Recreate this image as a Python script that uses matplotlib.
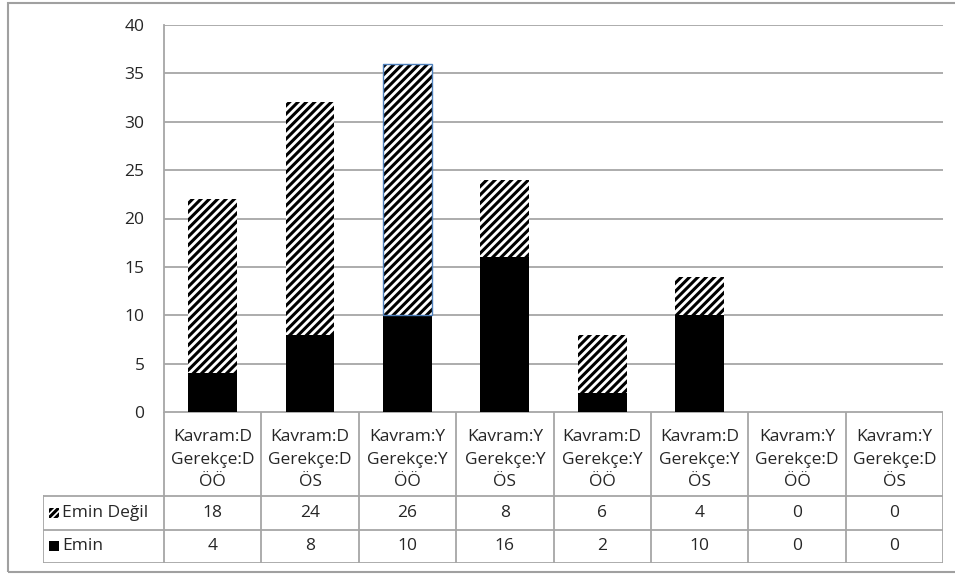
import numpy as np
import matplotlib.pyplot as plt
from matplotlib.patches import Rectangle

plt.rcParams['font.family'] = ['Open Sans', 'DejaVu Sans']
plt.rcParams['hatch.linewidth'] = 2.2

categories = ["Kavram:D\nGerekçe:D\nÖÖ", "Kavram:D\nGerekçe:D\nÖS",
              "Kavram:Y\nGerekçe:Y\nÖÖ", "Kavram:Y\nGerekçe:Y\nÖS",
              "Kavram:D\nGerekçe:Y\nÖÖ", "Kavram:D\nGerekçe:Y\nÖS",
              "Kavram:Y\nGerekçe:D\nÖÖ", "Kavram:Y\nGerekçe:D\nÖS"]
emin = [4, 8, 10, 16, 2, 10, 0, 0]
emin_degil = [18, 24, 26, 8, 6, 4, 0, 0]
yticks = [0, 5, 10, 15, 20, 25, 30, 35, 40]

W, H = 955, 575
grid_c = '#a6a6a6'
txt_c = '#262626'
fs = 12.5

fig = plt.figure(figsize=(W / 100, H / 100), dpi=100)

# outer frame
fig.add_artist(Rectangle((8 / W, 1 - 572 / H), 960 / W, 569 / H,
                         transform=fig.transFigure, fill=False,
                         edgecolor='#a0a0a0', linewidth=1.5))

left, right, top, bottom = 164, 943, 25, 412
ax = fig.add_axes([left / W, 1 - bottom / H, (right - left) / W, (bottom - top) / H])
x = np.arange(len(categories))
ax.bar(x, emin, width=0.5, color='black', zorder=3)
bars = ax.bar(x, emin_degil, width=0.5, bottom=emin, color='white',
              edgecolor='black', hatch='////', linewidth=0, zorder=3)
# the selected segment keeps its thin blue outline
sel = bars[2]
ax.add_patch(Rectangle(sel.get_xy(), sel.get_width(), sel.get_height(),
                       fill=False, edgecolor='#4f81bd', linewidth=1.0, zorder=4))

ax.set_xlim(-0.5, len(categories) - 0.5)
ax.set_ylim(0, 40)
ax.set_yticks(yticks)
ax.yaxis.grid(True, color=grid_c, linewidth=1.3)
ax.set_axisbelow(True)
ax.set_xticks([])
ax.tick_params(axis='y', length=0, pad=14, labelsize=fs, labelcolor=txt_c)
for s in ['top', 'right', 'bottom']:
    ax.spines[s].set_visible(False)
ax.spines['left'].set_color(grid_c)
ax.spines['left'].set_linewidth(1.3)

# data table below the axis
tl, tr = 43, 943
tab = fig.add_axes([tl / W, 1 - 563 / H, (tr - tl) / W, (563 - bottom) / H])
tab.set_xlim(tl, tr)
tab.set_ylim(563, bottom)
tab.axis('off')
col_w = (right - left) / len(categories)
r1, r2, r3 = 496, 529.5, 563
lw = 1.3
tab.plot([left, right], [bottom, bottom], color=grid_c, lw=lw)
tab.plot([tl, right], [r1, r1], color=grid_c, lw=lw)
tab.plot([tl, right], [r2, r2], color=grid_c, lw=lw)
tab.plot([tl, right], [r3, r3], color=grid_c, lw=lw)
tab.plot([tl, tl], [r1, r3], color=grid_c, lw=lw)
for i in range(len(categories) + 1):
    xc = left + i * col_w
    tab.plot([xc, xc], [bottom, r3], color=grid_c, lw=lw)

for i, cat in enumerate(categories):
    xc = left + (i + 0.5) * col_w
    for j, line in enumerate(cat.split("\n")):
        tab.text(xc, 437 + j * 22.5, line, ha='center', va='center',
                 fontsize=fs, color=txt_c)
    tab.text(xc, (r1 + r2) / 2, str(emin_degil[i]), ha='center', va='center',
             fontsize=fs, color=txt_c)
    tab.text(xc, (r2 + r3) / 2, str(emin[i]), ha='center', va='center',
             fontsize=fs, color=txt_c)

# legend keys in the row headers
tab.add_patch(Rectangle((49, (r1 + r2) / 2 - 5), 10, 10, facecolor='white',
                        edgecolor='black', hatch='/////', linewidth=0))
tab.add_patch(Rectangle((49, (r2 + r3) / 2 - 5), 10, 10, facecolor='black'))
tab.text(62, (r1 + r2) / 2, "Emin Değil", ha='left', va='center',
         fontsize=fs, color=txt_c)
tab.text(62, (r2 + r3) / 2, "Emin", ha='left', va='center',
         fontsize=fs, color=txt_c)

fig.savefig('out.png', dpi=100)
